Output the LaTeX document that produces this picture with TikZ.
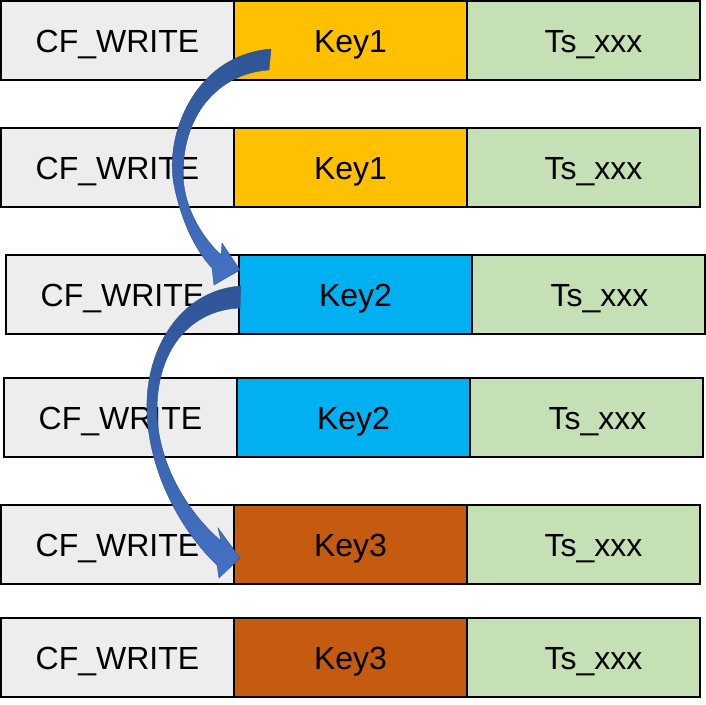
\documentclass[tikz,border=0pt]{standalone}
\usepackage{fontspec}
\setmainfont{Liberation Sans}
\begin{document}
\begin{tikzpicture}[x=1pt,y=-1pt,
  cell/.style={draw=black,line width=1.6pt,minimum width=233pt,minimum height=79pt,inner sep=0pt,outer sep=0pt,anchor=north west,text height=23pt,text depth=0pt,font=\fontsize{32}{38}\selectfont},
  cfcell/.style={cell,fill=cfgray},
  tscell/.style={cell,fill=tsgreen},
  blockarrow/.style={top color=arrowdark,bottom color=arrowlight,draw=arrowedge,line width=0.4pt}]
\definecolor{cfgray}{HTML}{EDEDED}
\definecolor{tsgreen}{HTML}{C5E0B4}
\definecolor{keyone}{HTML}{FFC000}
\definecolor{keytwo}{HTML}{00B0F0}
\definecolor{keythree}{HTML}{C55A11}
\definecolor{arrowdark}{HTML}{2F5597}
\definecolor{arrowlight}{HTML}{4472C4}
\definecolor{arrowedge}{HTML}{2F528F}
\useasboundingbox (0,0) rectangle (706,704);
% row 1
\node[cfcell] (c1) at (1,1) {CF\_WRITE};
\node[cell,fill=keyone] (k1) at (234,1) {Key1};
\node[tscell,text width=233pt,align=center] (t1) at (467,1) {\hspace*{20pt}Ts\_xxx};
% row 2
\node[cfcell] (c2) at (1,128) {CF\_WRITE};
\node[cell,fill=keyone] (k2) at (234,128) {Key1};
\node[tscell,text width=233pt,align=center] (t2) at (467,128) {\hspace*{20pt}Ts\_xxx};
% row 3
\node[cfcell] (c3) at (6,255) {CF\_WRITE};
\node[cell,fill=keytwo] (k3) at (239,255) {Key2};
\node[tscell,text width=233pt,align=center] (t3) at (472,255) {\hspace*{22pt}Ts\_xxx};
% row 4
\node[cfcell] (c4) at (4,378) {CF\_WRITE};
\node[cell,fill=keytwo] (k4) at (237,378) {Key2};
\node[tscell,text width=233pt,align=center] (t4) at (470,378) {\hspace*{22pt}Ts\_xxx};
% row 5
\node[cfcell] (c5) at (1,505) {CF\_WRITE};
\node[cell,fill=keythree] (k5) at (234,505) {Key3};
\node[tscell,text width=233pt,align=center] (t5) at (467,505) {\hspace*{20pt}Ts\_xxx};
% row 6
\node[cfcell] (c6) at (1,618) {CF\_WRITE};
\node[cell,fill=keythree] (k6) at (234,618) {Key3};
\node[tscell,text width=233pt,align=center] (t6) at (467,618) {\hspace*{20pt}Ts\_xxx};
% curved arrow 1 (Key1 -> Key2)
\shade[blockarrow] (271,49) .. controls (195,55) and (164,135) .. (174,185)
  .. controls (181,220) and (195,250) .. (212,268)
  -- (214,285) -- (240,270) -- (222,243) -- (221,255)
  .. controls (200,235) and (183,205) .. (183,172)
  .. controls (184,110) and (222,73) .. (269,70) -- cycle;
% curved arrow 2 (Key2 -> Key3)
\shade[blockarrow] (241,286) .. controls (180,290) and (145,350) .. (147,410)
  .. controls (148,470) and (180,530) .. (217,565)
  -- (219,578) -- (240,558) -- (218,528) -- (221,541)
  .. controls (185,510) and (157,460) .. (157,410)
  .. controls (157,350) and (190,310) .. (240,308) -- cycle;
\end{tikzpicture}
\end{document}
